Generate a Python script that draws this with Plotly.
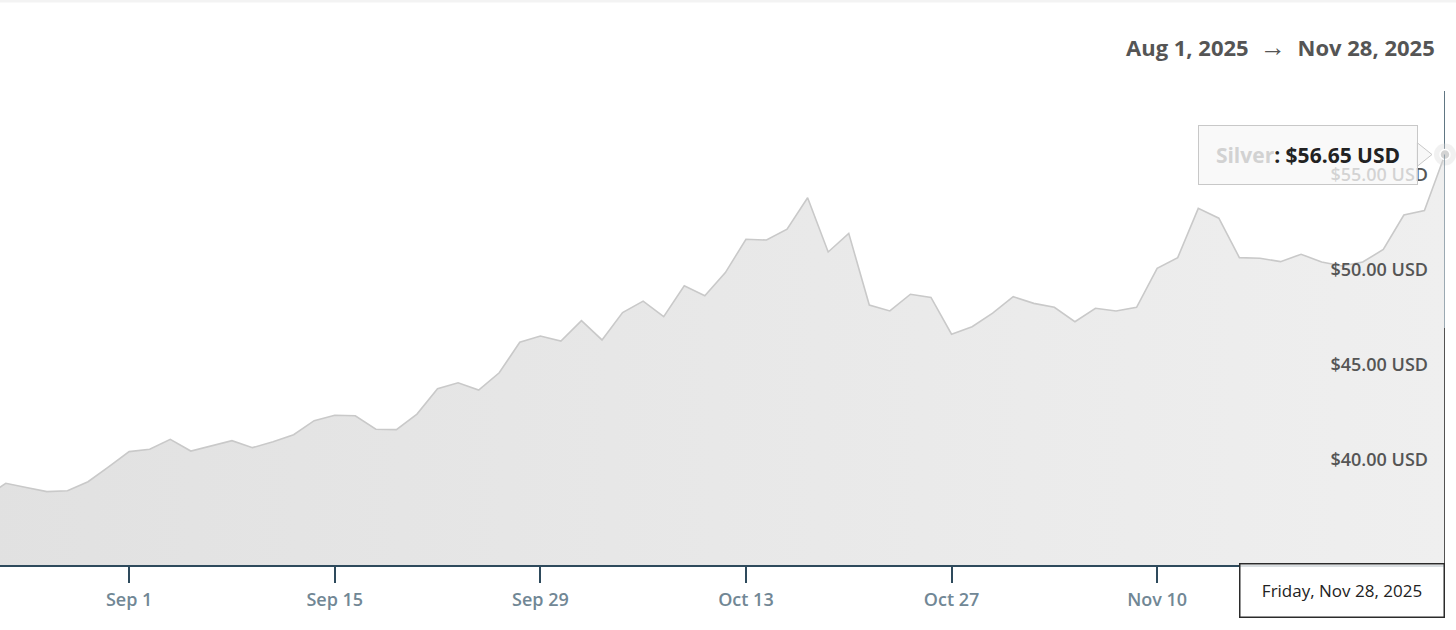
import plotly.graph_objects as go
import pandas as pd

SERIES = "Silver"
START_LABEL = "Aug 1, 2025"
END_LABEL = "Nov 28, 2025"

# trading days shown (weekdays), Aug 21 -> Nov 28, 2025
dates = pd.bdate_range("2025-08-21", "2025-11-28")
prices = [
    38.55, 39.31,
    39.09, 38.87, 38.92, 39.39, 40.18,
    40.98, 41.10, 41.63, 41.01, 41.29,
    41.56, 41.19, 41.50, 41.87, 42.61,
    42.90, 42.87, 42.16, 42.14, 42.96,
    44.30, 44.61, 44.23, 45.14, 46.75,
    47.08, 46.81, 47.89, 46.87, 48.31,
    48.92, 48.10, 49.73, 49.20, 50.42,
    52.18, 52.14, 52.71, 54.37, 51.51,
    52.49, 48.71, 48.40, 49.28, 49.11,
    47.17, 47.57, 48.28, 49.15, 48.80,
    48.59, 47.83, 48.54, 48.40, 48.59,
    50.65, 51.21, 53.81, 53.29, 51.21,
    51.18, 51.00, 51.39, 50.98, 50.77,
    50.98, 51.64, 53.46, 53.70, 56.65,
]

x_ticks = ["2025-09-01", "2025-09-15", "2025-09-29", "2025-10-13",
           "2025-10-27", "2025-11-10", "2025-11-24"]
y_ticks = [40, 45, 50, 55]
y_labels = [f"${v:.2f} USD" for v in y_ticks]
y_min, y_max = 35, 60

last_x = dates[-1]
last_y = prices[-1]

fig = go.Figure()

# crosshair above the area (kept under the marker)
fig.add_shape(type="line", xref="x", yref="y", x0=last_x, x1=last_x,
              y0=last_y, y1=y_max, line=dict(color="#2f4b5d", width=1.5), layer="between")

fig.add_trace(go.Scatter(
    x=dates, y=prices, name=SERIES,
    mode="lines",
    line=dict(color="#c9c9c9", width=1.6),
    fill="tozeroy",
    fillgradient=dict(type="horizontal",
                      colorscale=[[0, "#e1e1e1"], [1, "#efefef"]]),
    hoverinfo="skip",
))

# crosshair through the area
fig.add_shape(type="line", xref="x", yref="paper", x0=last_x, x1=last_x,
              y0=0.5, y1=(last_y - y_min) / (y_max - y_min),
              line=dict(color="#8194a0", width=1.5), layer="above")
fig.add_shape(type="line", xref="x", yref="paper", x0=last_x, x1=last_x,
              y0=0, y1=0.5, line=dict(color="#222222", width=1.5), layer="above")

# hovered point marker (halo + dot)
fig.add_trace(go.Scatter(
    x=[last_x], y=[last_y], mode="markers", showlegend=False,
    marker=dict(size=22, color="rgba(215,215,215,0.35)"),
    cliponaxis=False, hoverinfo="skip",
))
fig.add_trace(go.Scatter(
    x=[last_x], y=[last_y], mode="markers", showlegend=False,
    marker=dict(size=10, color="#d4d4d4", line=dict(color="white", width=1.5)),
    cliponaxis=False, hoverinfo="skip",
))

# faint top rule
fig.add_shape(type="line", xref="paper", yref="paper", x0=0, x1=1.01,
              y0=1.19, y1=1.19, line=dict(color="#f3f3f3", width=3))

# tooltip pointer
fig.add_shape(type="path", xref="x", yref="y", xsizemode="pixel", ysizemode="pixel",
              xanchor=last_x, yanchor=last_y,
              path="M -28,-12 L -13,0 L -28,12 Z",
              fillcolor="rgba(247,247,247,0.9)", line=dict(color="#c8c8c8", width=1))

fig.add_annotation(
    x=last_x, y=last_y, xref="x", yref="y",
    xanchor="right", yanchor="middle", xshift=-27,
    showarrow=False,
    text=f"<b><span style='color:#d2d2d2'>{SERIES}</span>: ${last_y:.2f} USD</b>",
    font=dict(family="Open Sans", size=21, color="#222222"),
    bgcolor="rgba(247,247,247,0.78)", bordercolor="#c8c8c8", borderwidth=1,
    borderpad=9, width=200, height=40,
)

fig.add_annotation(
    x=last_x, y=0, xref="x", yref="paper",
    xanchor="right", yanchor="top", yshift=2,
    showarrow=False,
    text=last_x.strftime("%A, %b %-d, %Y"),
    font=dict(family="Open Sans", size=17, color="#222222"),
    bgcolor="rgba(255,255,255,0.82)", bordercolor="#2b2b2b", borderwidth=1.5,
    borderpad=9, width=185, height=34,
)

fig.add_annotation(
    x=0.9945, y=1.094, xref="paper", yref="paper",
    xanchor="right", yanchor="middle", showarrow=False,
    text=(f"<b>{START_LABEL}</b>  <span style='font-size:26px'>\u2192</span>"
          f"  <b>{END_LABEL}</b>"),
    font=dict(family="Open Sans", size=22, color="#555555"),
)

fig.update_xaxes(
    type="date", automargin=False,
    rangebreaks=[dict(bounds=["sat", "mon"])],
    range=["2025-08-21 17:15", "2025-11-28 00:01"],
    tickvals=x_ticks, tickformat="%b %-d",
    ticks="outside", ticklen=16, tickwidth=1.5, tickcolor="#2e4a5c",
    ticklabelstandoff=2, ticklabeloverflow="allow",
    showline=True, linecolor="#2e4a5c", linewidth=1.5,
    showgrid=False, zeroline=False,
    tickfont=dict(family="Open Sans", size=18, color="#718795", weight=600),
)
fig.update_yaxes(
    side="right", range=[y_min, y_max], automargin=False,
    tickvals=y_ticks, ticktext=y_labels,
    ticklabelposition="inside", ticklabelstandoff=14, ticklabelshift=-11, ticks="",
    showline=False, showgrid=False, zeroline=False,
    tickfont=dict(family="Open Sans", size=18, color="#555555", weight=600),
)

fig.update_layout(
    width=1456, height=630,
    margin=dict(l=0, r=11, t=91, b=65),
    paper_bgcolor="white", plot_bgcolor="white",
    showlegend=False, hovermode=False,
    font=dict(family="Open Sans"),
)

fig.write_html("out.html", config={"displayModeBar": False},
               post_script="document.body.style.margin = '0px';")
